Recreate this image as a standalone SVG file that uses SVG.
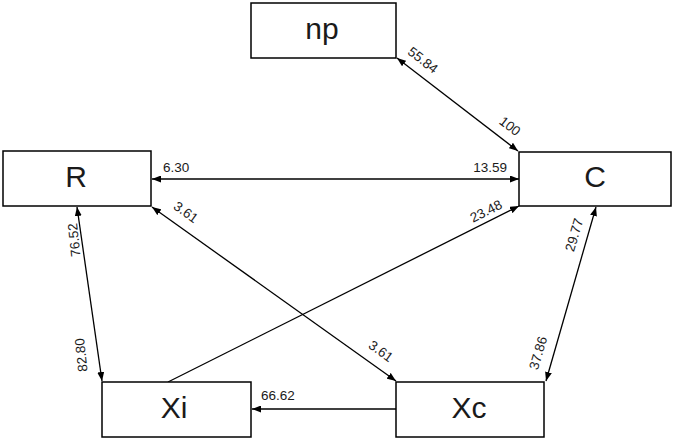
<svg xmlns="http://www.w3.org/2000/svg" width="674" height="440" viewBox="0 0 674 440">
<style>
.box{fill:#fff;stroke:#000;stroke-width:1.5}
.nl{font-family:"Liberation Sans",Arial,sans-serif;font-size:30px;fill:#1a1a1a;text-anchor:middle}
.el{font-family:"Liberation Sans",Arial,sans-serif;font-size:13.5px;fill:#1a1a1a}
.c{text-anchor:middle}
.con line{stroke:#000;stroke-width:1.3;fill:none}
</style>
<defs>
<marker id="ah" viewBox="0 0 9 7" refX="9" refY="3.5" markerWidth="9" markerHeight="7" markerUnits="userSpaceOnUse" orient="auto-start-reverse">
<path d="M0,0 L9,3.5 L0,7 z" fill="#000"/>
</marker>
</defs>
<rect width="674" height="440" fill="#fff"/>
<g id="connectors" class="con">
<line x1="397" y1="58" x2="518" y2="151" marker-start="url(#ah)" marker-end="url(#ah)"/>
<line x1="152" y1="179" x2="519" y2="179" marker-start="url(#ah)" marker-end="url(#ah)"/>
<line x1="152" y1="207" x2="396" y2="381" marker-start="url(#ah)" marker-end="url(#ah)"/>
<line x1="168" y1="382" x2="519" y2="206" marker-end="url(#ah)"/>
<line x1="77" y1="207" x2="102" y2="381" marker-start="url(#ah)" marker-end="url(#ah)"/>
<line x1="596" y1="207" x2="546" y2="381" marker-start="url(#ah)" marker-end="url(#ah)"/>
<line x1="396" y1="409" x2="252" y2="409" marker-end="url(#ah)"/>
</g>
<g id="np"><rect class="box" x="251" y="3" width="145" height="55"/><text class="nl" x="322" y="39">np</text></g>
<g id="R"><rect class="box" x="3" y="151" width="148" height="55"/><text class="nl" x="76" y="187">R</text></g>
<g id="C"><rect class="box" x="519" y="152" width="152" height="54"/><text class="nl" x="595" y="187">C</text></g>
<g id="Xi"><rect class="box" x="102" y="382" width="149" height="55"/><text class="nl" x="174" y="418">Xi</text></g>
<g id="Xc"><rect class="box" x="396" y="382" width="148" height="55"/><text class="nl" x="469" y="418">Xc</text></g>
<g id="labels">
<text class="el c" transform="translate(423,60) rotate(37.5)" dy="0.35em">55.84</text>
<text class="el c" transform="translate(510,126) rotate(37.5)" dy="0.35em">100</text>
<text class="el" x="163" y="172">6.30</text>
<text class="el" x="507" y="172" text-anchor="end">13.59</text>
<text class="el c" transform="translate(186,212) rotate(35.7)" dy="0.35em">3.61</text>
<text class="el c" transform="translate(381,351) rotate(35.7)" dy="0.35em">3.61</text>
<text class="el c" transform="translate(486,211) rotate(-26.6)" dy="0.35em">23.48</text>
<text class="el c" transform="translate(574,235) rotate(-73.7)" dy="0.35em">29.77</text>
<text class="el c" transform="translate(538,353) rotate(-73.7)" dy="0.35em">37.86</text>
<text class="el c" transform="translate(74,240) rotate(-96)" dy="0.35em">76.52</text>
<text class="el c" transform="translate(81,355) rotate(-96)" dy="0.35em">82.80</text>
<text class="el" x="261" y="400">66.62</text>
</g>
</svg>
